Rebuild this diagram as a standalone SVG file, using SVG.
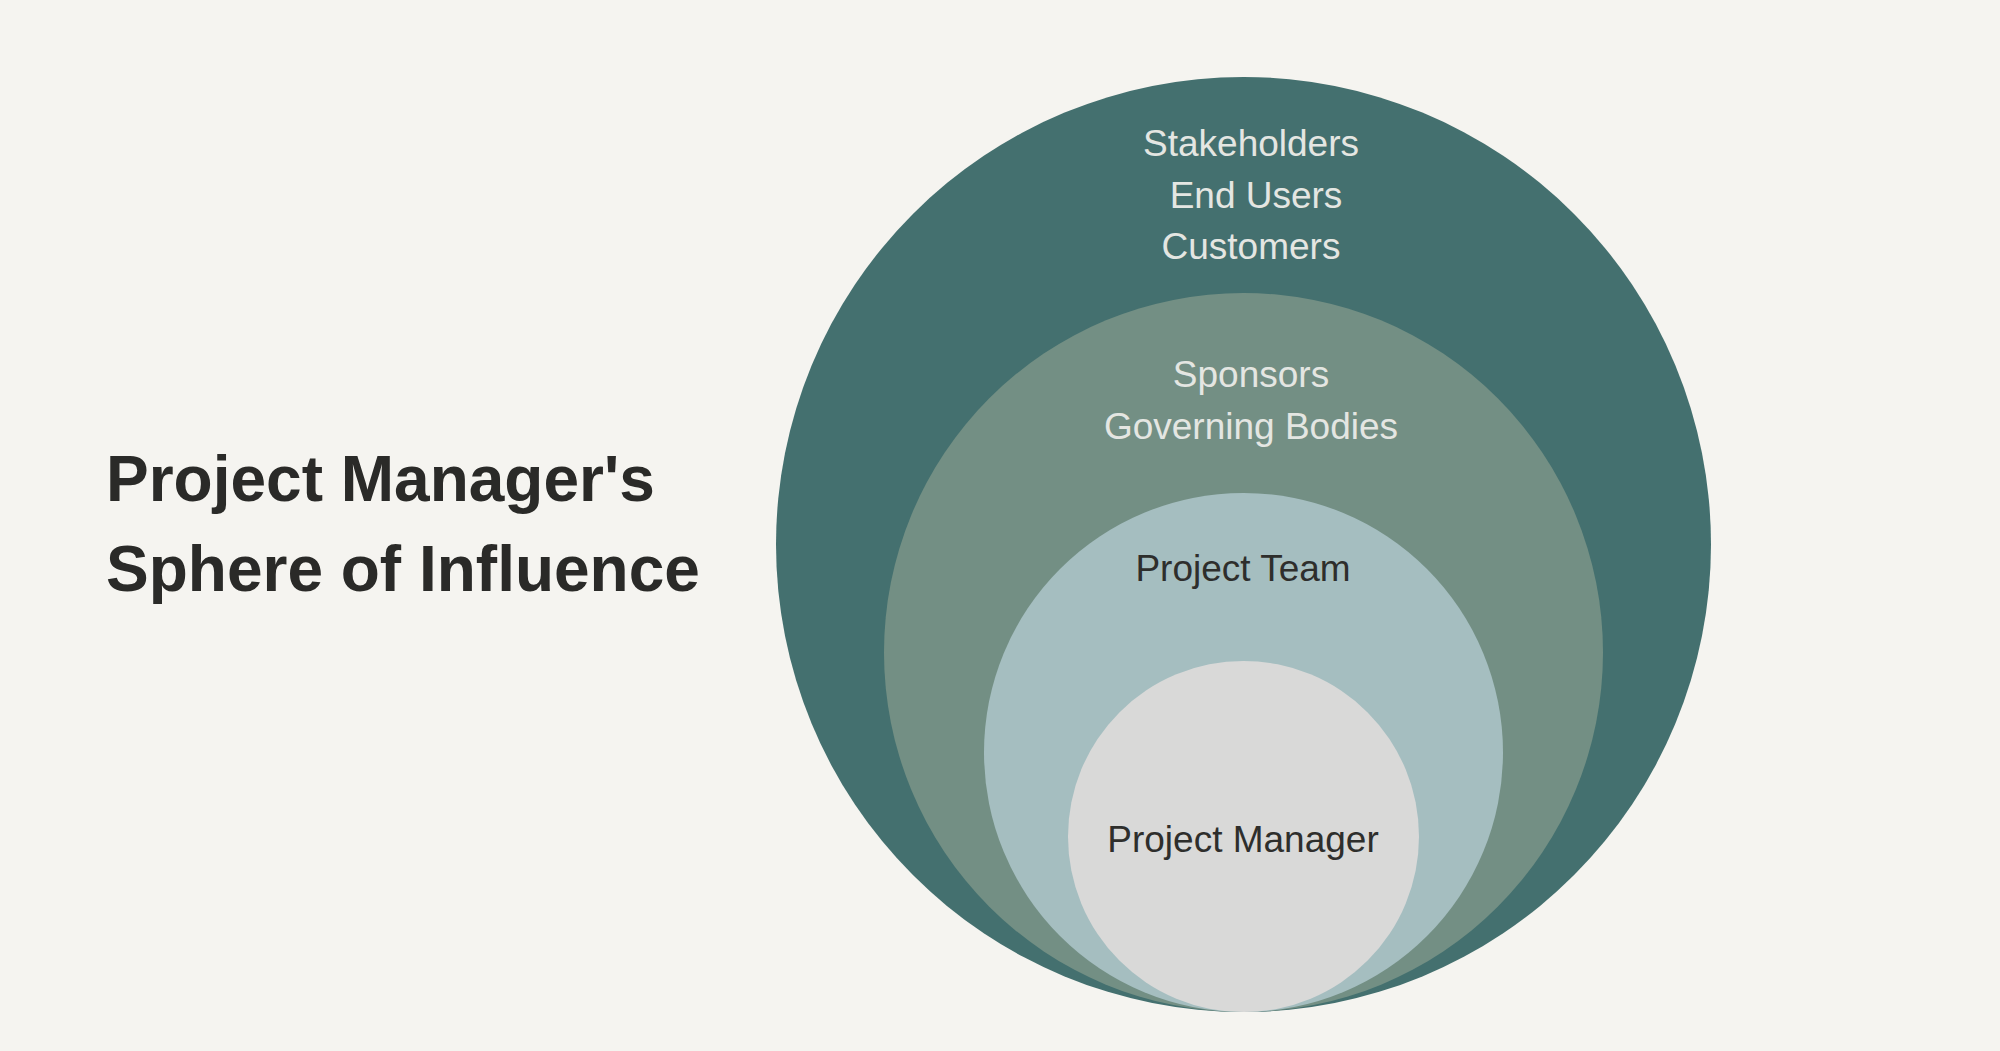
<svg xmlns="http://www.w3.org/2000/svg" width="2000" height="1051" viewBox="0 0 2000 1051">
<style>
.lbl{font-family:"Liberation Sans",Arial,sans-serif;font-size:37px;text-anchor:middle}
.light{fill:#e4e6e2}
.dark{fill:#2e2e2c}
.title{font-family:"Liberation Sans",Arial,sans-serif;font-size:64px;font-weight:bold;fill:#2a2a28}
</style>
<rect x="0" y="0" width="2000" height="1051" fill="#f5f4f0"/>
<g id="title">
<text class="title" x="106" y="501">Project Manager's</text>
<text class="title" x="106" y="591">Sphere of Influence</text>
</g>
<g id="connectors"></g>
<g id="stakeholders">
<circle cx="1243.5" cy="544.5" r="467.5" fill="#44706f"/>
<text class="lbl light" x="1251" y="156">Stakeholders</text>
<text class="lbl light" x="1256" y="208">End Users</text>
<text class="lbl light" x="1251" y="259">Customers</text>
</g>
<g id="sponsors">
<circle cx="1243.5" cy="652.5" r="359.5" fill="#738f84"/>
<text class="lbl light" x="1251" y="387">Sponsors</text>
<text class="lbl light" x="1251" y="439">Governing Bodies</text>
</g>
<g id="project-team">
<circle cx="1243.5" cy="752.5" r="259.5" fill="#a5bec0"/>
<text class="lbl dark" x="1243" y="581">Project Team</text>
</g>
<g id="project-manager">
<circle cx="1243.5" cy="836.5" r="175.5" fill="#d9d9d8"/>
<text class="lbl dark" x="1243" y="852">Project Manager</text>
</g>
</svg>
